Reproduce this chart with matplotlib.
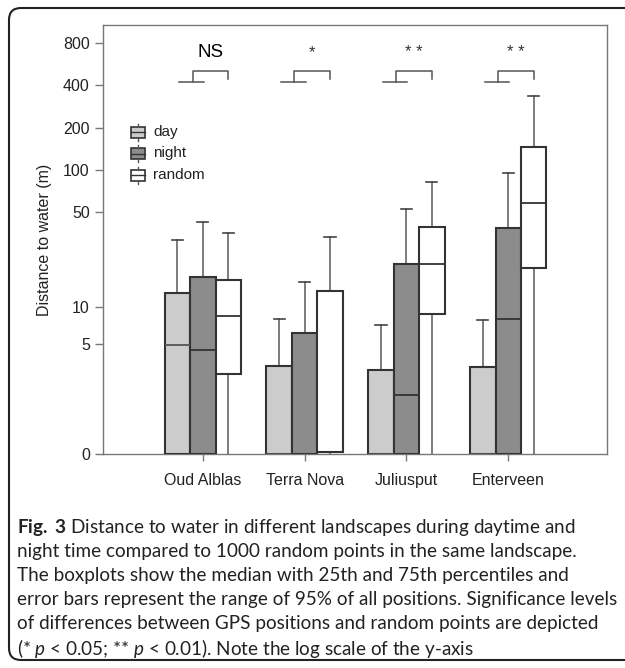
import numpy as np
import matplotlib
matplotlib.use('Agg')
import matplotlib.pyplot as plt
from matplotlib.patches import FancyBboxPatch, Rectangle
from matplotlib.transforms import IdentityTransform

# values (distance to water, m)
sites = ['Oud Alblas', 'Terra Nova', 'Juliusput', 'Enterveen']
signif = ['NS', '*', '**', '**']

day_q1 = [0, 0, 0, 0]
day_med = [4.9, 0, 0, 0]
day_q3 = [12.6, 3.2, 2.9, 3.1]
day_hi = [31.6, 8.0, 7.1, 7.8]

night_q1 = [0, 0, 0, 0]
night_med = [4.4, 0, 1.6, 8.0]
night_q3 = [16.9, 6.1, 20.9, 38.6]
night_hi = [42.4, 15.3, 52.4, 95.8]

rand_q1 = [2.65, 0.03, 8.8, 19.5]
rand_med = [8.5, 0.03, 20.8, 57.9]
rand_q3 = [15.9, 13.1, 39.2, 146.8]
rand_hi = [35.5, 32.9, 82.6, 334]

yticks = [0, 5, 10, 50, 100, 200, 400, 800]

caption = [
    r'$\mathbf{Fig.\ 3}$ Distance to water in different landscapes during daytime and',
    'night time compared to 1000 random points in the same landscape.',
    'The boxplots show the median with 25th and 75th percentiles and',
    'error bars represent the range of 95% of all positions. Significance levels',
    'of differences between GPS positions and random points are depicted',
    r'(* $p$ < 0.05; ** $p$ < 0.01). Note the log scale of the y-axis',
]

plt.rcParams['font.family'] = ['Liberation Sans', 'DejaVu Sans']
plt.rcParams['mathtext.fontset'] = 'custom'
plt.rcParams['mathtext.rm'] = 'Lato'
plt.rcParams['mathtext.it'] = 'Lato:italic'
plt.rcParams['mathtext.bf'] = 'Lato:bold'

fig = plt.figure(figsize=(6.25, 6.68), dpi=100)
W, H = 625, 668
ax = fig.add_axes([103 / W, 1 - 454 / H, 504 / W, 429 / H])

ax.set_yscale('function', functions=(lambda v: np.log10(np.clip(v, 0, None) + 1),
                                     lambda u: 10 ** u - 1))

groups = np.arange(1, len(sites) + 1)
series = [
    (day_q1, day_med, day_q3, day_hi, -0.25, '#cbcccb', '#555555'),
    (night_q1, night_med, night_q3, night_hi, 0.0, '#8c8c8c', '#333333'),
    (rand_q1, rand_med, rand_q3, rand_hi, 0.25, 'white', '#333333'),
]
bw = 0.25
for q1, med, q3, hi, off, fc, mc in series:
    stats = []
    for i in range(len(sites)):
        stats.append({'q1': q1[i], 'med': med[i], 'q3': q3[i],
                      'whislo': 0, 'whishi': hi[i], 'fliers': []})
    bp = ax.bxp(stats, positions=groups + off, widths=bw, patch_artist=True,
                showfliers=False, capwidths=0.11, manage_ticks=False,
                boxprops=dict(facecolor=fc, edgecolor='#333333', linewidth=1.5),
                medianprops=dict(color=mc, linewidth=1.3),
                whiskerprops=dict(color='#666666', linewidth=1.2),
                capprops=dict(color='#444444', linewidth=1.2))
    for c in bp['caps'][0::2]:
        c.set_visible(False)
    for b in bp['boxes']:
        b.set_zorder(3)
    for m in bp['medians']:
        m.set_zorder(4)

# significance brackets
ylo, yhi = 422, 505
for g, s in zip(groups, signif):
    ax.plot([g - 0.23, g + 0.01], [ylo, ylo], color='#555555', lw=1.1)
    ax.plot([g - 0.1, g - 0.1, g + 0.25, g + 0.25], [ylo, yhi, yhi, 445],
            color='#555555', lw=1.1)
    if s == 'NS':
        ax.text(g + 0.08, 680, s, ha='center', va='center', fontsize=13.5)
    else:
        ax.text(g + 0.07, 680, ' '.join(s), ha='center', va='center',
                fontsize=12, color='#333333')

ax.set_xlim(0.02, 4.97)
ax.set_ylim(0, 1068)
ax.set_yticks(yticks)
ax.set_yticklabels([str(t) for t in yticks])
ax.set_xticks(groups)
ax.set_xticklabels(sites)
ax.yaxis.set_minor_locator(matplotlib.ticker.NullLocator())
ax.tick_params(axis='both', colors='#777777', labelcolor='#222222',
               labelsize=11.5, length=6, width=1)
ax.tick_params(axis='x', length=5, pad=9)
for sp in ax.spines.values():
    sp.set_color('#777777')
    sp.set_linewidth(1)
ax.set_ylabel('Distance to water (m)', fontsize=11.5, color='#222222', labelpad=8)

# legend drawn as small boxplot glyphs
legend_items = [('day', '#cbcccb'), ('night', '#8c8c8c'), ('random', 'white')]
for k, (lab, fc) in enumerate(legend_items):
    yc = 132 + 21.5 * k
    fig.add_artist(Rectangle((131, H - yc - 5.5), 14, 11, facecolor=fc,
                             edgecolor='#333333', lw=1.2,
                             transform=IdentityTransform()))
    fig.add_artist(plt.Line2D([131, 145], [H - yc, H - yc], color='#333333',
                              lw=1, transform=IdentityTransform()))
    fig.add_artist(plt.Line2D([138, 138], [H - yc + 5.5, H - yc + 8.5],
                              color='#555555', lw=1, transform=IdentityTransform()))
    fig.add_artist(plt.Line2D([138, 138], [H - yc - 5.5, H - yc - 8.5],
                              color='#555555', lw=1, transform=IdentityTransform()))
    fig.text(153 / W, 1 - yc / H, lab, ha='left', va='center', fontsize=11,
             color='#222222')

# caption
for k, line in enumerate(caption):
    fig.text(17 / W, 1 - (528 + 24 * k) / H, line, ha='left', va='center',
             fontsize=13.6, family='Lato', color='#222222')

# rounded outer frame
fig.add_artist(FancyBboxPatch((9, H - 660), 720, 652,
                              boxstyle='round,pad=0,rounding_size=12',
                              facecolor='none', edgecolor='#222222', lw=1.5,
                              transform=IdentityTransform()))

fig.savefig('out.png', dpi=100)
